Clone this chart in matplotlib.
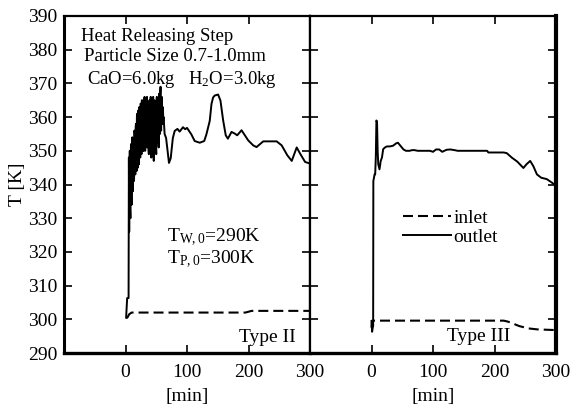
import matplotlib
matplotlib.use("Agg")
import matplotlib.pyplot as plt

plt.rcParams['font.family'] = ['Liberation Serif', 'DejaVu Serif']
plt.rcParams['mathtext.fontset'] = 'custom'
plt.rcParams['mathtext.rm'] = 'Liberation Serif'
plt.rcParams['mathtext.it'] = 'Liberation Serif:italic'

# ---- Type II (left) ----
t2_out = [1, 2.7, 5, 5.5,
          6.0, 6.5, 7.0, 7.5, 8.0, 8.5, 9.0, 9.5, 10.0, 10.5, 11.0, 11.5, 12.0,
          12.5, 13.0, 13.5, 14.0, 14.5, 15.0, 15.5, 16.0, 16.5, 17.0, 17.5,
          18.0, 18.5, 19.0, 19.5, 20.0, 20.5, 21.0, 21.5, 22.0, 22.5, 23.0,
          23.5, 24.0, 24.5, 25.0, 25.5, 26.0, 26.5, 27.0, 27.5, 28.0, 28.5,
          29.0, 29.5, 30.0, 30.5, 31.0, 31.5, 32.0, 32.5, 33.0, 33.5, 34.0,
          34.5, 35.0, 35.5, 36.0, 36.5, 37.0, 37.5, 38.0, 38.5, 39.0, 39.5,
          40.0, 40.5, 41.0, 41.5, 42.0, 42.5, 43.0, 43.5, 44.0, 44.5, 45.0,
          45.5, 46.0, 46.5, 47.0, 47.5, 48.0, 48.5, 49.0, 49.5, 50.0, 50.5,
          51.0, 51.5, 52.0, 52.5, 53.0, 53.5, 54.0, 54.5, 55.0, 55.5, 56.0,
          56.5, 57.0, 57.5, 58.0, 58.5, 59.0, 59.5, 60.0, 60.5, 61.0, 61.5,
          62.0,
          63.6, 66, 70.7, 73.5, 77, 80, 84.5, 88, 93.5, 97, 100, 107,
          112.5, 120.7, 128, 131.6, 137, 139.8, 142.4, 145, 150.6, 154.4, 158.8,
          163, 166.5, 172.4, 177.8, 181.6, 188.7, 194, 199.5, 207.7, 213, 224,
          245.8, 254, 263, 270.3, 278.4, 283.8, 292, 300]
T2_out = [300.5, 306.3, 306.3, 348,
          326, 345, 350, 333, 330, 349, 352, 336, 334, 351, 354, 339, 338,
          353, 352, 341, 342, 356, 355, 344, 343, 357, 358, 346,
          344, 360, 361, 347, 345, 361, 362, 349, 346, 363, 360,
          350, 348, 364, 364, 351, 349, 365, 365, 352, 350, 362,
          363, 350, 351, 365, 366, 353, 350, 362, 364, 351, 352,
          365, 366, 354, 351, 364, 363, 350, 349, 363, 365, 353,
          352, 364, 366, 351, 348, 362, 364, 352, 353, 365, 366,
          350, 347, 363, 365, 354, 352, 364, 363, 351, 349, 365,
          366, 355, 354, 365, 364, 353, 351, 365, 367, 356, 355,
          367, 369, 357, 356, 364, 366, 358, 358, 363, 362, 359,
          360,
          355, 353.8, 346.4, 347.8, 353.8, 355.9, 356.5, 355.7, 357, 356.4,
          356.8, 354.9, 352.9, 352.4, 352.9, 354.9, 358.9, 363.9, 365.8, 366.4,
          366.7, 364.9, 359, 354.6, 353.6, 355.6, 355.1, 354.6, 356.1, 354.6,
          353.1, 351.6, 351.1, 352.8, 352.8, 351.6, 348.7, 347, 351, 349.2,
          346.7, 346.2]
t2_in = [1, 3, 6, 10, 195, 205, 300]
T2_in = [300.4, 300.5, 301.5, 302, 302, 302.5, 302.5]

# ---- Type III (right) ----
t3_out = [0, 1, 2, 2.7, 3, 5, 6, 7, 8, 9, 10, 11, 13, 15, 17, 19, 22, 25, 30,
          35, 40, 43, 47, 52, 56, 62, 66, 70, 75, 85, 95, 100, 105, 110, 115,
          122, 128, 135, 140, 188, 190, 215, 220, 228, 237, 247, 252, 258, 263,
          269, 276, 285, 293, 300]
T3_out = [299.5, 296.3, 297.5, 298, 341, 343, 343, 348, 359, 358.5, 350, 346,
          344.5, 347, 348, 350.5, 351, 351.3, 351.3, 351.5, 352.2, 352.4, 351.5,
          350.4, 350, 350, 350.2, 350.2, 350, 350, 350, 349.7, 350.4, 350.4,
          349.7, 350.3, 350.4, 350.2, 350, 350, 349.5, 349.5, 349.3, 348, 346.8,
          344.9, 346, 347, 345.5, 343, 342, 341.6, 340.6, 339.6]
t3_in = [0, 1, 215, 222, 232, 240, 255, 270, 300]
T3_in = [297.5, 299.6, 299.6, 299.3, 298.6, 298, 297.3, 297, 296.8]

x_ticks = [0, 100, 200, 300]
y_ticks = list(range(290, 391, 10))

fig = plt.figure(figsize=(5.72, 4.05), dpi=100)
W, H = 572, 405
ax1 = fig.add_axes([64 / W, 52 / H, 246 / W, 337 / H])
ax2 = fig.add_axes([310 / W, 52 / H, 246 / W, 337 / H])

lw_out = 1.4
lw_in = 1.5
dash = (0, (4.8, 2.4))
for ax, (to, To, ti, Ti) in zip(
        (ax1, ax2),
        ((t2_out, T2_out, t2_in, T2_in), (t3_out, T3_out, t3_in, T3_in))):
    l_in, = ax.plot(ti, Ti, color='black', lw=lw_in, linestyle=dash)
    l_out, = ax.plot(to, To, color='black', lw=lw_out)
    ax.set_xlim(-100, 300)
    ax.set_ylim(290, 390)
    ax.set_xticks(x_ticks)
    ax.set_yticks(y_ticks)
    ax.tick_params(direction='in', top=True, right=True, length=6, width=1.2,
                   labelsize=14)
    ax.tick_params(axis='x', pad=8)
    ax.tick_params(axis='y', pad=5)
    for s in ax.spines.values():
        s.set_linewidth(1.6)
    ax.spines['bottom'].set_linewidth(2.4)
    ax.set_xlabel('[min]', fontsize=14, labelpad=5)

ax2.tick_params(labelleft=False)
ax1.spines['left'].set_linewidth(2.2)
ax2.spines['right'].set_linewidth(3.0)
ax1.set_ylabel('T [K]', fontsize=14, labelpad=1)

fs = 13.5
ax1.text(0.07, 0.94, 'Heat Releasing Step', transform=ax1.transAxes,
         fontsize=fs, va='center', ha='left')
ax1.text(0.08, 0.88, 'Particle Size 0.7-1.0mm', transform=ax1.transAxes,
         fontsize=fs, va='center', ha='left')
ax1.text(0.095, 0.812, r'CaO=6.0kg   H$\mathregular{_2}$O=3.0kg',
         transform=ax1.transAxes, fontsize=fs, va='center', ha='left')
ax1.text(0.42, 0.342, r'T$\mathregular{_{W,0}}$=290K', transform=ax1.transAxes,
         fontsize=14, va='center', ha='left')
ax1.text(0.42, 0.277, r'T$\mathregular{_{P,0}}$=300K', transform=ax1.transAxes,
         fontsize=14, va='center', ha='left')
ax1.text(0.943, 0.045, 'Type II', transform=ax1.transAxes,
         fontsize=14, va='center', ha='right')
ax2.text(0.813, 0.048, 'Type III', transform=ax2.transAxes,
         fontsize=14, va='center', ha='right')

ax2.legend([l_in, l_out], ['inlet', 'outlet'], frameon=False, fontsize=14,
           loc='upper left', bbox_to_anchor=(0.345, 0.45), handlelength=2.5,
           handletextpad=0.1, labelspacing=0.1, borderaxespad=0)

fig.savefig('out.png', dpi=100)
